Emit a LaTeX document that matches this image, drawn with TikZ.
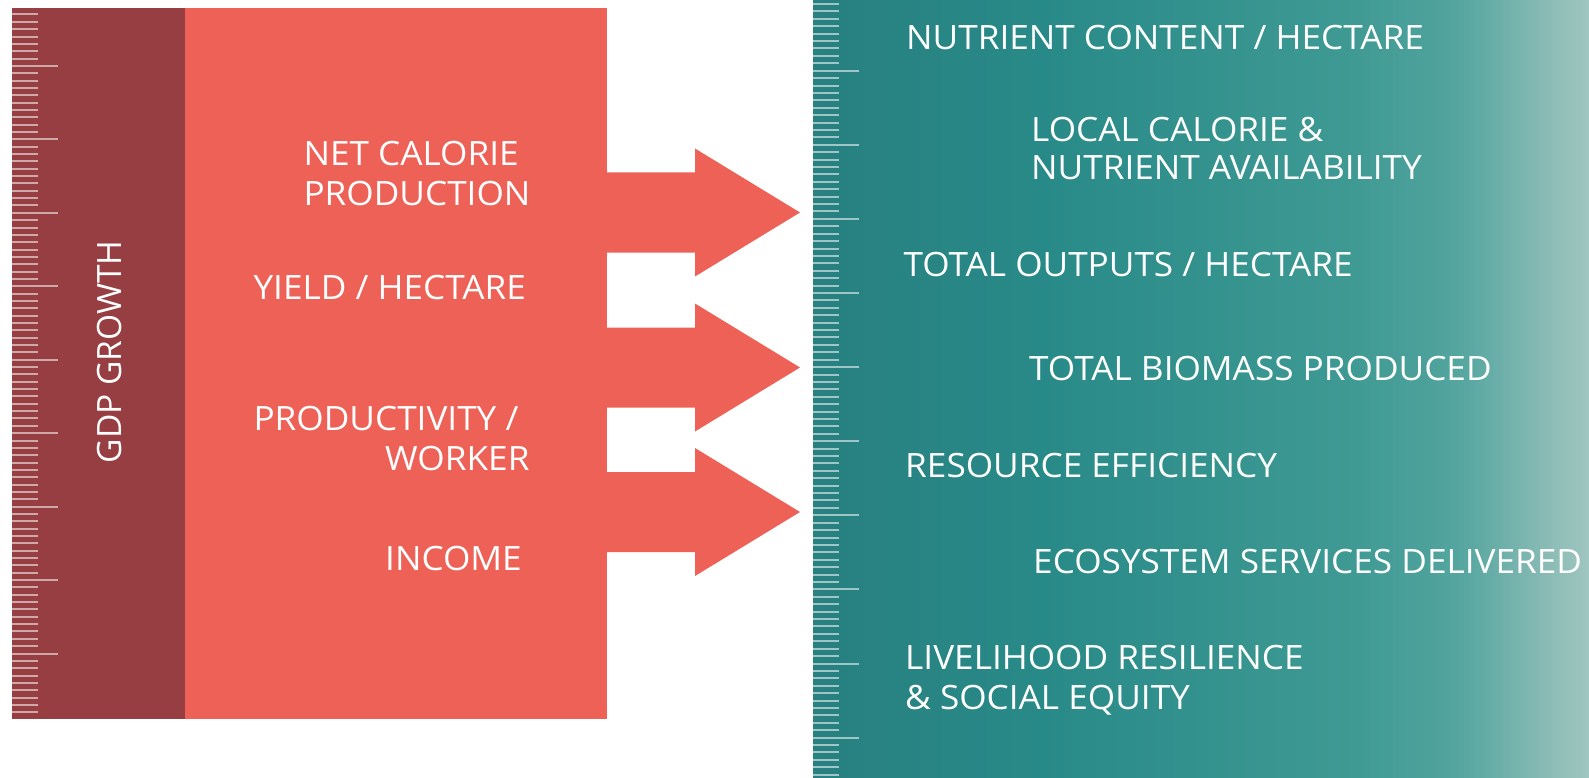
\documentclass[tikz,border=0pt]{standalone}
\usepackage{fontspec}
\setmainfont{Open Sans}
\newfontfamily\labfont[FakeStretch=1.05]{Open Sans}
\definecolor{darkred}{RGB}{150,62,66}
\definecolor{salmon}{RGB}{237,97,86}
\definecolor{tA}{RGB}{40,128,128}
\definecolor{tB}{RGB}{40,138,136}
\definecolor{tC}{RGB}{62,153,147}
\definecolor{tD}{RGB}{77,161,155}
\definecolor{tE}{RGB}{90,168,162}
\definecolor{tF}{RGB}{115,178,172}
\definecolor{tG}{RGB}{140,188,182}
\definecolor{tH}{RGB}{160,198,192}
\begin{document}
\begin{tikzpicture}[x=1pt,y=-1pt,
  lab/.style={text=white, inner sep=0pt, anchor=base west, font=\labfont\fontsize{33.5}{40}\selectfont},
  vlab/.style={text=white, inner sep=0pt, anchor=base, rotate=90, font=\fontsize{33.5}{40}\selectfont},
  tick/.style={draw=white, draw opacity=0.55, line width=2pt}]
\fill[white] (0,0) rectangle (1589,778);
\useasboundingbox (0,0) rectangle (1589,778);
% teal panel
\shade[left color=tA, right color=tB] (813,0) rectangle (1044,778);
\shade[left color=tB, right color=tC] (1043,0) rectangle (1344,778);
\shade[left color=tC, right color=tD] (1343,0) rectangle (1431,778);
\shade[left color=tD, right color=tE] (1430,0) rectangle (1471,778);
\shade[left color=tE, right color=tF] (1470,0) rectangle (1511,778);
\shade[left color=tF, right color=tG] (1510,0) rectangle (1551,778);
\shade[left color=tG, right color=tH] (1550,0) rectangle (1589,778);
% left blocks
\fill[darkred] (12.3,8.3) rectangle (185,719.3);
\fill[salmon] (185,8.3) rectangle (606.7,719.3);
% arrows
\foreach \c in {212.5,367.5,512}{
  \fill[salmon] (600,\c-40) -- (695,\c-40) -- (695,\c-64) -- (800,\c) -- (695,\c+64) -- (695,\c+40) -- (600,\c+40) -- cycle;
}
% left ruler
\foreach \i in {0,...,95}{
  \pgfmathsetmacro{\yy}{14.5+7.345*\i}
  \pgfmathsetmacro{\len}{ifthenelse(mod(\i+3,10)==0,58.3,38.3)}
  \draw[tick] (12.3,\yy) -- (\len,\yy);
}
% right ruler
\foreach \j in {-9,...,95}{
  \pgfmathsetmacro{\yy}{70.7+7.41*\j}
  \pgfmathsetmacro{\len}{ifthenelse(mod(\j+100,10)==0,859,839.3)}
  \draw[tick] (813,\yy) -- (\len,\yy);
}
% left labels
\node[vlab] (gdp) at (121.7,351.7) {GDP GROWTH};
\node[lab] (net) at (303.3,166) {NET CALORIE};
\node[lab] (prod) at (303.3,205) {PRODUCTION};
\node[lab] (yield) at (253.3,299.3) {YIELD / HECTARE};
\node[lab] (pw1) at (253.3,430) {PRODUCTIVITY /};
\node[lab] (pw2) at (385,470) {WORKER};
\node[lab] (inc) at (385,570) {INCOME};
% right labels
\node[lab] (r1) at (906,50) {NUTRIENT CONTENT / HECTARE};
\node[lab] (r2a) at (1031,141.7) {LOCAL CALORIE \&};
\node[lab] (r2b) at (1031,179) {NUTRIENT AVAILABILITY};
\node[lab] (r3) at (903.3,276.7) {TOTAL OUTPUTS / HECTARE};
\node[lab] (r4) at (1029,380) {TOTAL BIOMASS PRODUCED};
\node[lab] (r5) at (905,477) {RESOURCE EFFICIENCY};
\node[lab] (r6) at (1033,573) {ECOSYSTEM SERVICES DELIVERED};
\node[lab] (r7a) at (905,669) {LIVELIHOOD RESILIENCE};
\node[lab] (r7b) at (905,709) {\& SOCIAL EQUITY};
\end{tikzpicture}
\end{document}
